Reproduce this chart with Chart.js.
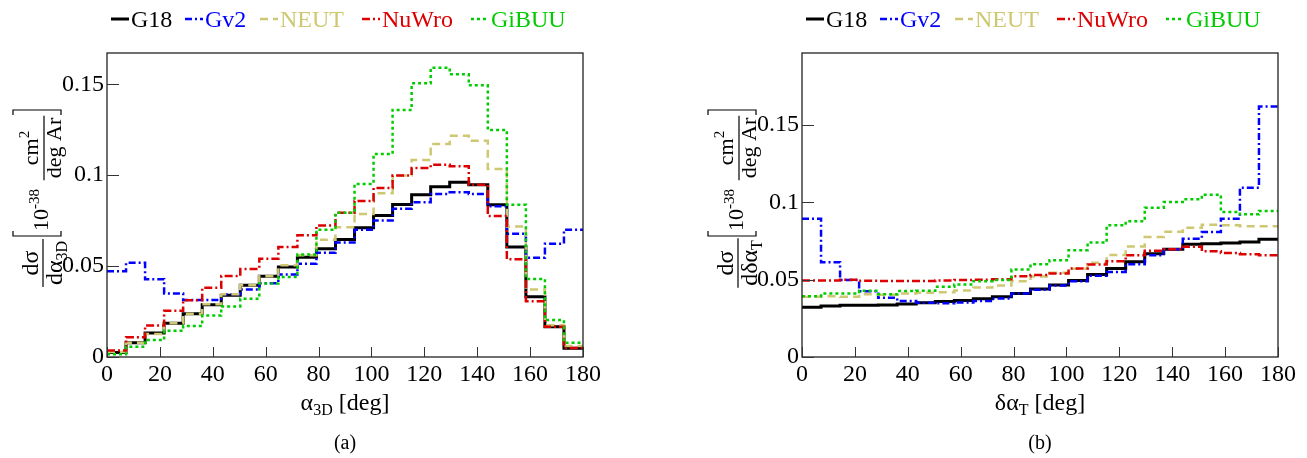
<!DOCTYPE html>
<html>
<head>
<meta charset="utf-8">
<script src="https://cdn.jsdelivr.net/npm/chart.js@4.4.0/dist/chart.umd.min.js"></script>
<style>
  html, body { margin: 0; padding: 0; background: #fff; }
  #wrap { position: relative; width: 1307px; height: 458px; overflow: hidden; }
  .panel { position: absolute; top: 0; }
</style>
</head>
<body>
<div id="wrap">
  <div class="panel" style="left:0"><canvas id="chartA" width="653" height="458"></canvas></div>
  <div class="panel" style="left:653px"><canvas id="chartB" width="654" height="458"></canvas></div>
</div>
<script>
// ---- data (25 bins of 7.2 deg from 0 to 180) ----
const nBins = 25;
const binWidth = 7.2;
const seriesNames = ['G18', 'Gv2', 'NEUT', 'NuWro', 'GiBUU'];
const xTickValues = [0, 20, 40, 60, 80, 100, 120, 140, 160, 180];
const yTickStep = 0.05;

// (a) alpha_3D
const g18A   = [0.0025, 0.0078, 0.0132, 0.0185, 0.0238, 0.0288, 0.0340, 0.0395, 0.0444, 0.0495, 0.0548, 0.0595, 0.0646, 0.0711, 0.0778, 0.0839, 0.0893, 0.0937, 0.0961, 0.0948, 0.0837, 0.0605, 0.0331, 0.0166, 0.0048];
const gv2A   = [0.0472, 0.0518, 0.0428, 0.0349, 0.0313, 0.0313, 0.0345, 0.0371, 0.0405, 0.0454, 0.0513, 0.0574, 0.0630, 0.0700, 0.0751, 0.0815, 0.0851, 0.0897, 0.0906, 0.0897, 0.0829, 0.0678, 0.0546, 0.0623, 0.0700];
const neutA  = [0.0028, 0.0078, 0.0126, 0.0185, 0.0238, 0.0290, 0.0345, 0.0395, 0.0444, 0.0504, 0.0559, 0.0645, 0.0714, 0.0787, 0.0900, 0.0998, 0.1083, 0.1171, 0.1217, 0.1189, 0.1034, 0.0718, 0.0371, 0.0175, 0.0060];
const nuwroA = [0.0036, 0.0108, 0.0173, 0.0254, 0.0312, 0.0381, 0.0445, 0.0484, 0.0540, 0.0605, 0.0669, 0.0723, 0.0793, 0.0858, 0.0930, 0.0998, 0.1040, 0.1058, 0.1049, 0.0948, 0.0775, 0.0537, 0.0307, 0.0166, 0.0050];
const gibuuA = [0.0015, 0.0057, 0.0093, 0.0144, 0.0170, 0.0228, 0.0278, 0.0320, 0.0404, 0.0440, 0.0564, 0.0700, 0.0793, 0.0952, 0.1116, 0.1359, 0.1505, 0.1591, 0.1555, 0.1494, 0.1248, 0.0837, 0.0429, 0.0203, 0.0079];

// (b) delta alpha_T
const g18B   = [0.0322, 0.0330, 0.0334, 0.0334, 0.0336, 0.0343, 0.0350, 0.0358, 0.0365, 0.0376, 0.0389, 0.0410, 0.0440, 0.0465, 0.0495, 0.0533, 0.0572, 0.0615, 0.0667, 0.0697, 0.0728, 0.0732, 0.0737, 0.0744, 0.0761];
const gv2B   = [0.0894, 0.0613, 0.0497, 0.0425, 0.0383, 0.0362, 0.0350, 0.0347, 0.0352, 0.0362, 0.0378, 0.0410, 0.0435, 0.0462, 0.0490, 0.0525, 0.0550, 0.0600, 0.0658, 0.0697, 0.0765, 0.0808, 0.0894, 0.1094, 0.1619];
const neutB  = [0.0390, 0.0393, 0.0390, 0.0405, 0.0402, 0.0410, 0.0415, 0.0418, 0.0430, 0.0450, 0.0462, 0.0490, 0.0520, 0.0545, 0.0570, 0.0610, 0.0660, 0.0715, 0.0775, 0.0810, 0.0835, 0.0855, 0.0852, 0.0845, 0.0845];
const nuwroB = [0.0495, 0.0495, 0.0500, 0.0493, 0.0492, 0.0492, 0.0492, 0.0495, 0.0498, 0.0500, 0.0502, 0.0522, 0.0530, 0.0540, 0.0572, 0.0598, 0.0619, 0.0658, 0.0686, 0.0697, 0.0712, 0.0684, 0.0673, 0.0664, 0.0658];
const gibuuB = [0.0393, 0.0410, 0.0410, 0.0428, 0.0406, 0.0426, 0.0428, 0.0454, 0.0469, 0.0490, 0.0497, 0.0565, 0.0600, 0.0626, 0.0690, 0.0740, 0.0851, 0.0877, 0.0965, 0.1002, 0.1019, 0.1049, 0.0937, 0.0922, 0.0944];

// ---- styles ----
const SERIF = '"Liberation Serif", "DejaVu Serif", serif';
const lineStyles = [
  { color: '#000000', width: 3,   dash: [] },
  { color: '#0000ff', width: 2.5, dash: [7, 3, 2, 3] },
  { color: '#cfc872', width: 2.5, dash: [8, 5] },
  { color: '#dd0000', width: 2.5, dash: [8, 3, 2, 3] },
  { color: '#00cc00', width: 2.5, dash: [3, 3] }
];

// histogram -> step line points at bin edges
function stepPoints(values) {
  const pts = values.map((v, i) => ({ x: i * binWidth, y: v }));
  pts.push({ x: nBins * binWidth, y: values[values.length - 1] });
  return pts;
}

function makeDatasets(all) {
  return all.map((vals, i) => ({
    label: seriesNames[i],
    data: stepPoints(vals),
    stepped: 'before',
    borderColor: lineStyles[i].color,
    borderWidth: lineStyles[i].width,
    borderDash: lineStyles[i].dash,
    pointRadius: 0,
    fill: false,
    order: 5 - i   // G18 underneath, GiBUU on top
  }));
}

// ---- text helpers ----
function runsWidth(ctx, runs) {
  let w = 0;
  runs.forEach(r => { ctx.font = r.size + 'px ' + SERIF; w += ctx.measureText(r.t).width; });
  return w;
}
function drawRuns(ctx, runs, cx, y) {
  let x = cx - runsWidth(ctx, runs) / 2;
  runs.forEach(r => {
    ctx.font = r.size + 'px ' + SERIF;
    ctx.fillText(r.t, x, y + (r.dy || 0));
    x += ctx.measureText(r.t).width;
  });
}
function drawFrac(ctx, num, den, cx, barY, numY, denY) {
  const w = Math.max(runsWidth(ctx, num), runsWidth(ctx, den)) + 4;
  ctx.beginPath();
  ctx.moveTo(cx - w / 2, barY);
  ctx.lineTo(cx + w / 2, barY);
  ctx.stroke();
  drawRuns(ctx, num, cx, numY);
  drawRuns(ctx, den, cx, denY);
}
function bracket(ctx, u, v0, v1, arm) {
  ctx.beginPath();
  ctx.moveTo(u + arm, v0);
  ctx.lineTo(u, v0);
  ctx.lineTo(u, v1);
  ctx.lineTo(u + arm, v1);
  ctx.stroke();
}

const decorPlugin = {
  id: 'decor',
  afterDraw(chart, args, cfg) {
    const ctx = chart.ctx;
    const a = chart.chartArea;
    const xs = chart.scales.x, ys = chart.scales.y;
    ctx.save();
    ctx.fillStyle = '#000';
    ctx.strokeStyle = '#000';
    ctx.textAlign = 'left';
    ctx.textBaseline = 'alphabetic';

    // frame
    ctx.lineWidth = 1.3;
    ctx.strokeStyle = '#222';
    ctx.strokeRect(a.left, a.top, a.right - a.left, a.bottom - a.top);

    // inward ticks
    ctx.lineWidth = 1;
    ctx.strokeStyle = '#333';
    xs.ticks.forEach(t => {
      const px = Math.round(xs.getPixelForValue(t.value)) + 0.5;
      ctx.beginPath(); ctx.moveTo(px, a.bottom); ctx.lineTo(px, a.bottom - 10); ctx.stroke();
    });
    ys.ticks.forEach(t => {
      const py = Math.round(ys.getPixelForValue(t.value)) + 0.5;
      ctx.beginPath(); ctx.moveTo(a.left, py); ctx.lineTo(a.left + 12, py); ctx.stroke();
    });

    // x-axis title and sub label
    ctx.strokeStyle = '#000';
    const midX = (a.left + a.right) / 2;
    drawRuns(ctx, cfg.xTitle, midX, 410);
    drawRuns(ctx, [{ t: cfg.sub, size: 20 }], midX, 449);

    // y-axis title (rotated)
    ctx.save();
    ctx.translate(a.left - 64, 290);
    ctx.rotate(-Math.PI / 2);
    ctx.lineWidth = 1.2;
    drawFrac(ctx, [{ t: 'dσ', size: 24 }], cfg.yDen, 27, 0, -5, 19);
    bracket(ctx, 54, -30, 18, 5);
    drawRuns(ctx, [{ t: '10', size: 22 }, { t: '-38', size: 15, dy: -9 }], 80, 5);
    drawFrac(ctx, [{ t: 'cm', size: 22 }, { t: '2', size: 15, dy: -9 }], [{ t: 'deg Ar', size: 22 }], 142, 1, -5, 18);
    bracket(ctx, 180, -30, 18, -5);
    ctx.restore();

    // legend
    const ds = chart.data.datasets;
    const legY = 19;
    cfg.legendX.forEach((lx, i) => {
      const st = lineStyles[i];
      ctx.save();
      ctx.strokeStyle = st.color;
      ctx.lineWidth = st.width;
      ctx.setLineDash(st.dash);
      ctx.beginPath(); ctx.moveTo(lx, legY); ctx.lineTo(lx + 18, legY); ctx.stroke();
      ctx.restore();
      ctx.fillStyle = st.color;
      ctx.font = '24px ' + SERIF;
      ctx.fillText(ds[i].label, lx + 20, 27);
    });
    ctx.restore();
  }
};

function tickText(v) {
  return String(Math.round(v * 1000) / 1000);
}

function makeChart(id, all, yMax, padL, padR, cfg) {
  return new Chart(document.getElementById(id), {
    type: 'line',
    data: { datasets: makeDatasets(all) },
    options: {
      responsive: false,
      animation: false,
      devicePixelRatio: 1,
      layout: { padding: { left: padL, right: padR, top: 53, bottom: 61 } },
      plugins: { legend: { display: false }, tooltip: { enabled: false }, decor: cfg },
      elements: { point: { radius: 0 }, line: { tension: 0 } },
      scales: {
        x: {
          type: 'linear', min: 0, max: 180,
          grid: { display: false, drawTicks: false },
          border: { display: false },
          afterBuildTicks: s => { s.ticks = xTickValues.map(v => ({ value: v })); },
          ticks: { font: { family: SERIF, size: 24 }, color: '#000', padding: 3, maxRotation: 0, autoSkip: false, callback: tickText },
          afterFit: s => { s.height = 40; }
        },
        y: {
          type: 'linear', min: 0, max: yMax,
          grid: { display: false, drawTicks: false },
          border: { display: false },
          ticks: { stepSize: yTickStep, includeBounds: false, font: { family: SERIF, size: 24 }, color: '#000', padding: 3, callback: tickText },
          afterFit: s => { s.width = 60; }
        }
      }
    },
    plugins: [decorPlugin]
  });
}

function build() {
  makeChart('chartA', [g18A, gv2A, neutA, nuwroA, gibuuA], 0.1672, 47, 70, {
    xTitle: [{ t: 'α', size: 24 }, { t: '3D', size: 16, dy: 5 }, { t: ' [deg]', size: 24 }],
    yDen: [{ t: 'dα', size: 24 }, { t: '3D', size: 16, dy: 5 }],
    sub: '(a)',
    legendX: [111, 185, 260, 362, 471]
  });

  makeChart('chartB', [g18B, gv2B, neutB, nuwroB, gibuuB], 0.1965, 89, 29, {
    xTitle: [{ t: 'δα', size: 24 }, { t: 'T', size: 16, dy: 5 }, { t: ' [deg]', size: 24 }],
    yDen: [{ t: 'dδα', size: 24 }, { t: 'T', size: 16, dy: 5 }],
    sub: '(b)',
    legendX: [153, 227, 302, 404, 513]
  });
}

// the single (non-animated) draw needs the serif face ready
Promise.all([
  document.fonts.load('24px "Liberation Serif"'),
  document.fonts.load('15px "Liberation Serif"')
]).then(build, build);
</script>
</body>
</html>
